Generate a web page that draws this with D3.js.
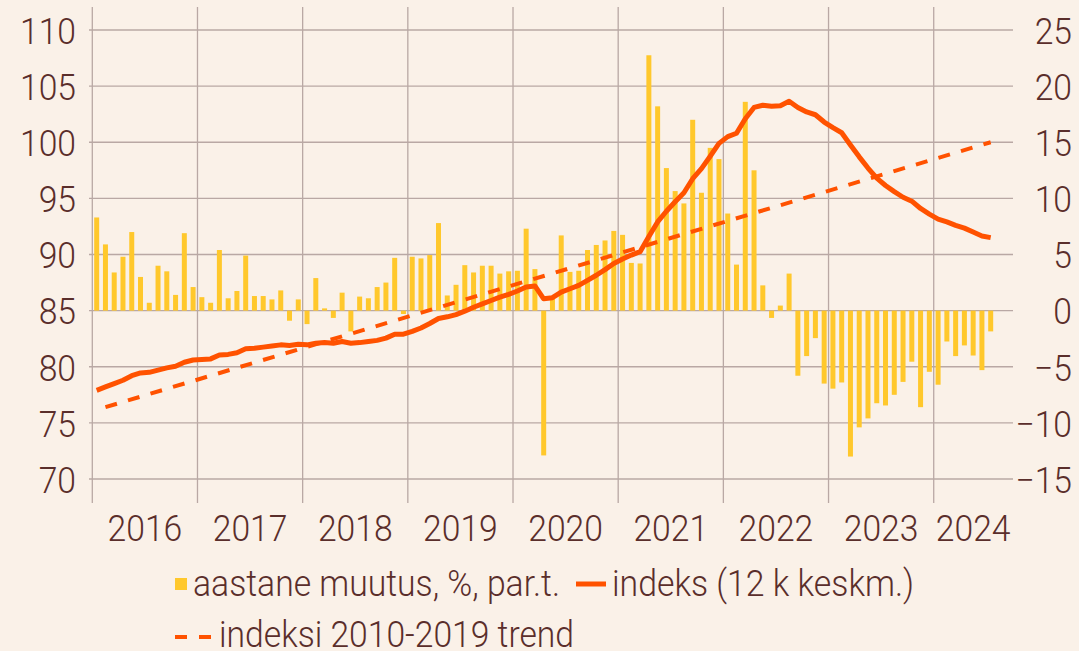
<!DOCTYPE html>
<html>
<head>
<meta charset="utf-8">
<script src="https://cdn.jsdelivr.net/npm/d3@7"></script>
<style>
  body { margin: 0; background: #faf1e8; }
  svg { display: block; }
  text { font-family: Roboto, 'Noto Sans', sans-serif; font-weight: 300; fill: #5a2e2b; }
</style>
</head>
<body>
<div id="chart"></div>
<script>
// years shown on the x axis
const years = ['2016', '2017', '2018', '2019', '2020', '2021', '2022', '2023', '2024']

// aastane muutus, % (right axis), Jan 2016 - Jul 2024
const changeValues = [
  8.3, 5.9, 3.4, 4.8, 7.0, 3.0, 0.7, 4.0, 3.5, 1.4, 6.9, 2.1,
  1.2, 0.7, 5.4, 1.1, 1.75, 4.9, 1.3, 1.3, 1.0, 1.8, -0.9, 1.0,
  -1.2, 2.9, 0.2, -0.65, 1.6, -1.85, 1.25, 1.1, 2.1, 2.5, 4.7, -0.3,
  4.8, 4.65, 4.95, 7.8, 1.35, 2.3, 4.05, 3.4, 4.0, 4.0, 3.3, 3.5,
  3.55, 7.3, 3.7, -12.9, 1.2, 6.7, 3.45, 3.55, 5.4, 5.85, 6.25, 7.1,
  6.75, 4.25, 4.2, 22.75, 18.2, 12.7, 10.65, 9.55, 17.0, 10.5, 14.5, 13.5,
  8.65, 4.1, 18.6, 12.5, 2.25, -0.65, 0.45, 3.3, -5.8, -4.05, -2.45, -6.5,
  -6.95, -6.4, -13.0, -10.4, -9.6, -8.25, -8.45, -7.5, -6.35, -4.55, -8.6, -5.45,
  -6.6, -2.75, -4.05, -3.1, -4.0, -5.3, -1.85
]

// indeks (12 k keskm.) (left axis)
const indexValues = [
  77.9, 78.2, 78.5, 78.8, 79.2, 79.45, 79.5, 79.7, 79.9, 80.05, 80.4, 80.6,
  80.65, 80.7, 81.05, 81.1, 81.25, 81.6, 81.65, 81.75, 81.85, 81.95, 81.9, 82.0,
  81.95, 82.1, 82.15, 82.1, 82.25, 82.1, 82.15, 82.25, 82.35, 82.55, 82.9, 82.9,
  83.15, 83.45, 83.85, 84.3, 84.45, 84.65, 84.95, 85.3, 85.6, 85.9, 86.2, 86.45,
  86.75, 87.1, 87.2, 86.05, 86.15, 86.65, 86.95, 87.25, 87.7, 88.15, 88.65, 89.2,
  89.6, 89.95, 90.25, 91.6, 92.9, 93.85, 94.7, 95.5, 96.75, 97.65, 98.75, 99.9,
  100.5, 100.8, 102.1, 103.1, 103.3, 103.2, 103.25, 103.65, 103.1, 102.7, 102.45, 101.8,
  101.3, 100.85, 99.75, 98.7, 97.7, 96.8, 96.15, 95.6, 95.1, 94.75, 94.1, 93.6,
  93.15, 92.9, 92.6, 92.35, 92.0, 91.65, 91.5
]

// indeksi 2010-2019 trend (straight line, end points)
const trendMonths = ['2016-02', '2024-07']
const trendValues = [76.4, 100.0]

const leftTicks = [70, 75, 80, 85, 90, 95, 100, 105, 110]
const rightTicks = [-15, -10, -5, 0, 5, 10, 15, 20, 25]

const legendLabels = ['aastane muutus, %, par.t.', 'indeks (12 k keskm.)', 'indeksi 2010-2019 trend']

const width = 1079
const height = 651
const barColor = '#ffc82c'
const lineColor = '#ff5200'
const gridColor = '#b9a8a4'
const squeeze = 'scale(0.91,1)'

const svg = d3
  .select('#chart')
  .append('svg')
  .attr('width', width)
  .attr('height', height)

svg.append('rect').attr('width', width).attr('height', height).attr('fill', '#faf1e8')

const fmt = d3.timeFormat('%Y-%m')
// axis runs Jan 2016 .. Sep 2024
const months = d3.timeMonth.range(new Date(2016, 0, 1), new Date(2024, 9, 1)).map(fmt)
const dataMonths = months.slice(0, changeValues.length)

const xPositionScale = d3
  .scaleBand()
  .domain(months)
  .range([92.3, 1012.6])
  .paddingInner(0.43)
  .paddingOuter(0.215)

const step = xPositionScale.step()
const xCenter = m => xPositionScale(m) + xPositionScale.bandwidth() / 2
const xStart = m => xCenter(m) - step / 2

const yLeft = d3.scaleLinear().domain([70, 110]).range([479, 30])
const yRight = d3.scaleLinear().domain([-15, 25]).range([479, 30])

// horizontal gridlines
svg
  .append('g')
  .selectAll('line')
  .data(leftTicks)
  .enter()
  .append('line')
  .attr('x1', 89)
  .attr('x2', 1013)
  .attr('y1', d => yLeft(d))
  .attr('y2', d => yLeft(d))
  .attr('stroke', gridColor)
  .attr('stroke-width', 1.3)

// vertical year lines
svg
  .append('g')
  .selectAll('line')
  .data(years)
  .enter()
  .append('line')
  .attr('x1', d => xStart(d + '-01'))
  .attr('x2', d => xStart(d + '-01'))
  .attr('y1', 7)
  .attr('y2', 503)
  .attr('stroke', gridColor)
  .attr('stroke-width', 1.3)

// bars
svg
  .append('g')
  .selectAll('rect')
  .data(changeValues)
  .enter()
  .append('rect')
  .attr('x', (d, i) => xPositionScale(dataMonths[i]))
  .attr('width', xPositionScale.bandwidth())
  .attr('y', d => Math.min(yRight(d), yRight(0)))
  .attr('height', d => Math.abs(yRight(d) - yRight(0)))
  .attr('fill', barColor)

// trend
const line = d3
  .line()
  .x(d => xCenter(d[0]))
  .y(d => yLeft(d[1]))

svg
  .append('path')
  .datum(trendMonths.map((m, i) => [m, trendValues[i]]))
  .attr('d', line)
  .attr('fill', 'none')
  .attr('stroke', lineColor)
  .attr('stroke-width', 4)
  .attr('stroke-dasharray', '12,11.5')

// index line
svg
  .append('path')
  .datum(indexValues.map((v, i) => [dataMonths[i], v]))
  .attr('d', line)
  .attr('fill', 'none')
  .attr('stroke', lineColor)
  .attr('stroke-width', 5)
  .attr('stroke-linejoin', 'round')

// axes (labels only)
const leftAxis = d3.axisLeft(yLeft).tickValues(leftTicks).tickSize(0).tickPadding(0)
svg
  .append('g')
  .attr('transform', 'translate(76,0)')
  .call(leftAxis)
  .call(g => g.select('.domain').remove())

const rightAxis = d3.axisRight(yRight).tickValues(rightTicks).tickSize(0).tickPadding(0)
svg
  .append('g')
  .attr('transform', 'translate(1072,0)')
  .call(rightAxis)
  .call(g => g.select('.domain').remove())
  .selectAll('text')
  .attr('text-anchor', 'end')

svg
  .selectAll('.tick text')
  .attr('font-size', 37)
  .attr('font-family', null)
  .attr('fill', null)
  .attr('dy', '0.36em')
  .attr('transform', squeeze)

// year labels
const axisEnd = xPositionScale.range()[1]
svg
  .append('g')
  .selectAll('text')
  .data(years)
  .enter()
  .append('text')
  .attr('transform', (d, i) => {
    const x0 = xStart(d + '-01')
    const x1 = i < years.length - 1 ? xStart(years[i + 1] + '-01') : axisEnd
    return 'translate(' + (x0 + x1) / 2 + ',541) ' + squeeze
  })
  .attr('text-anchor', 'middle')
  .attr('font-size', 37)
  .text(d => d)

// legend
const legend = svg.append('g')
legend
  .append('rect')
  .attr('x', 175)
  .attr('y', 578)
  .attr('width', 12)
  .attr('height', 12)
  .attr('fill', barColor)
legend
  .append('line')
  .attr('x1', 576)
  .attr('x2', 606)
  .attr('y1', 584)
  .attr('y2', 584)
  .attr('stroke', lineColor)
  .attr('stroke-width', 5)
legend
  .append('line')
  .attr('x1', 175)
  .attr('x2', 211)
  .attr('y1', 637)
  .attr('y2', 637)
  .attr('stroke', lineColor)
  .attr('stroke-width', 4)
  .attr('stroke-dasharray', '12,12')

const legendPos = [[193, 596], [612, 596], [219, 647]]
const legendWidths = [367, 302, 355]
legend
  .selectAll('text')
  .data(legendLabels)
  .enter()
  .append('text')
  .attr('x', (d, i) => legendPos[i][0])
  .attr('y', (d, i) => legendPos[i][1])
  .attr('textLength', (d, i) => legendWidths[i])
  .attr('lengthAdjust', 'spacingAndGlyphs')
  .attr('font-size', 37)
  .text(d => d)
</script>
</body>
</html>
